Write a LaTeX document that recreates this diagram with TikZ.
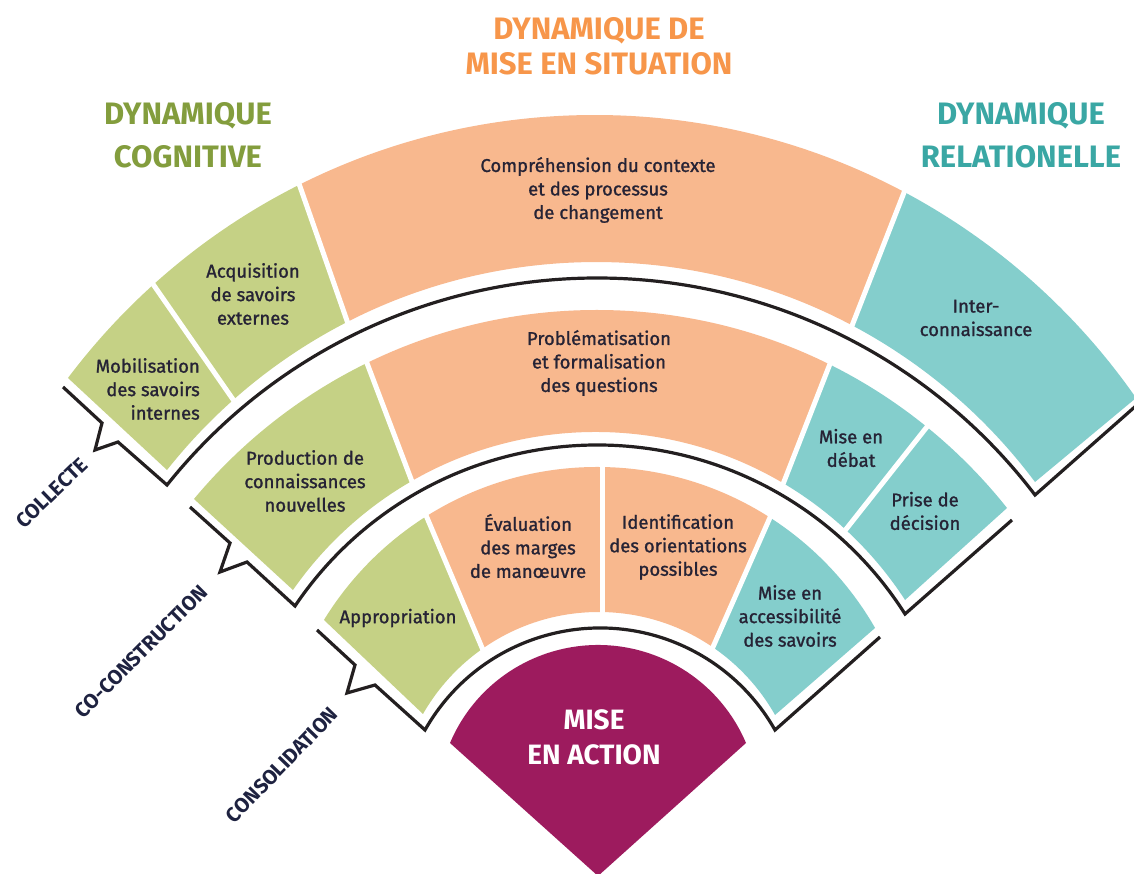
\documentclass[tikz,border=0pt]{standalone}
\usepackage{fontspec}
\setmainfont{Fira Sans}
\usetikzlibrary{calc}
\definecolor{cgreen}{HTML}{C5D185}
\definecolor{corange}{HTML}{F8B88E}
\definecolor{cteal}{HTML}{84CECC}
\definecolor{cmag}{HTML}{9D1B5E}
\definecolor{tgreen}{HTML}{839D3D}
\definecolor{torange}{HTML}{F7964A}
\definecolor{tteal}{HTML}{3AA7A4}
\definecolor{ctext}{HTML}{262335}
\definecolor{cnavy}{HTML}{1E2240}
\definecolor{cblk}{HTML}{231F20}
% circle through three points (pixel coordinates)
\newcommand{\defcirc}[7]{%
  \pgfmathsetmacro{\tpAx}{#2/100}\pgfmathsetmacro{\tpAy}{#3/100}%
  \pgfmathsetmacro{\tpBx}{#4/100}\pgfmathsetmacro{\tpBy}{#5/100}%
  \pgfmathsetmacro{\tpCx}{#6/100}\pgfmathsetmacro{\tpCy}{#7/100}%
  \pgfmathsetmacro{\tpD}{2*(\tpAx*(\tpBy-\tpCy)+\tpBx*(\tpCy-\tpAy)+\tpCx*(\tpAy-\tpBy))}%
  \pgfmathsetmacro{\tpA}{\tpAx*\tpAx+\tpAy*\tpAy}%
  \pgfmathsetmacro{\tpB}{\tpBx*\tpBx+\tpBy*\tpBy}%
  \pgfmathsetmacro{\tpC}{\tpCx*\tpCx+\tpCy*\tpCy}%
  \pgfmathsetmacro{\tpUx}{(\tpA*(\tpBy-\tpCy)+\tpB*(\tpCy-\tpAy)+\tpC*(\tpAy-\tpBy))/\tpD}%
  \pgfmathsetmacro{\tpUy}{(\tpA*(\tpCx-\tpBx)+\tpB*(\tpAx-\tpCx)+\tpC*(\tpBx-\tpAx))/\tpD}%
  \pgfmathsetmacro{\tpR}{100*veclen(\tpAx-\tpUx,\tpAy-\tpUy)}%
  \pgfmathsetmacro{\tpUx}{100*\tpUx}\pgfmathsetmacro{\tpUy}{100*\tpUy}%
  \expandafter\xdef\csname cx#1\endcsname{\tpUx}%
  \expandafter\xdef\csname cy#1\endcsname{\tpUy}%
  \expandafter\xdef\csname cr#1\endcsname{\tpR}%
}
\newcommand{\ptang}[4]{%
  \edef\tpcx{\csname cx#1\endcsname}\edef\tpcy{\csname cy#1\endcsname}%
  \pgfmathsetmacro{#4}{atan2((#3)-(\tpcy),(#2)-(\tpcx))}}
% ring sector between two circles, clipped by two divider lines
\newcommand{\rsector}[7]{%
  \edef\tpox{\csname cx#2\endcsname}\edef\tpoy{\csname cy#2\endcsname}\edef\tpor{\csname cr#2\endcsname}%
  \edef\tpix{\csname cx#3\endcsname}\edef\tpiy{\csname cy#3\endcsname}\edef\tpir{\csname cr#3\endcsname}%
  \begin{scope}
    \clip ($(#5)!-0.1!(#4)$) -- ($(#5)!3!(#4)$) -- ($(#7)!3!(#6)$) -- ($(#7)!-0.1!(#6)$) -- cycle;
    \fill[#1, even odd rule] (\tpox,\tpoy) circle[radius=\tpor] (\tpix,\tpiy) circle[radius=\tpir];
  \end{scope}}
\newcommand{\wdiv}[2]{\draw[divline] ($(#2)!-0.07!(#1)$) -- ($(#2)!1.07!(#1)$);}
\newcommand{\blackline}[9]{% circ, s, n1, n2, n3, Lcx, Lcy, Rcx, Rcy ; end point = coordinate <circ>e
  \ptang{#1}{#6}{#7}{\tpaL}\ptang{#1}{#8}{#9}{\tpaR}\edef\tpr{\csname cr#1\endcsname}%
  \draw[outl] (#2) -- (#3) -- (#4) -- (#5) -- (#6,#7) arc[start angle=\tpaL, end angle=\tpaR, radius=\tpr] -- (#1e);}
\tikzset{
  outl/.style={draw=cblk, line width=3.2, line join=miter},
  divline/.style={white, line width=5},
  stxt/.style={text=ctext, align=center, inner sep=0, font=\fontsize{18.5}{23.5}\selectfont\addfontfeature{FakeBold=1.2}},
  ttl/.style={align=center, inner sep=0, font=\fontsize{31}{43}\selectfont\bfseries},
  clab/.style={text=cnavy, inner sep=0, font=\fontsize{20.5}{22}\selectfont\bfseries},
}
\begin{document}
\begin{tikzpicture}[x=1pt,y=-1pt]
\useasboundingbox (0,0) rectangle (1134,874);
\fill[white] (0,0) rectangle (1134,874);
% ---------- divider points ----------
\coordinate (L1o) at (68,378);   \coordinate (L1i) at (167,470);
\coordinate (D1ao) at (155,287); \coordinate (D1ai) at (232,398);
\coordinate (D1bo) at (297,178); \coordinate (D1bi) at (345,315);
\coordinate (D1co) at (905,190); \coordinate (D1ci) at (855,318);
\coordinate (R1o) at (1136,398); \coordinate (R1i) at (1035,482);
\coordinate (L2o) at (194,499);  \coordinate (L2i) at (293,590);
\coordinate (D2ao) at (362,350); \coordinate (D2ai) at (411,479);
\coordinate (D2bo) at (835,351); \coordinate (D2bi) at (785,479);
\coordinate (D2co) at (930,423); \coordinate (D2ci) at (847,528);
\coordinate (R2o) at (1007,508); \coordinate (R2i) at (905,600);
\coordinate (L3o) at (324,620);  \coordinate (L3i) at (423,714);
\coordinate (D3ao) at (428,520); \coordinate (D3ai) at (480,643);
\coordinate (D3bo) at (602,466); \coordinate (D3bi) at (602,612);
\coordinate (D3co) at (768,522); \coordinate (D3ci) at (713,647);
\coordinate (R3o) at (875,628);  \coordinate (R3i) at (775,715);
% ---------- arcs ----------
\defcirc{A1o}{68}{378}{597}{115}{1136}{398}
\defcirc{A1i}{167}{470}{597}{262}{1035}{482}
\defcirc{A2o}{194}{499}{598}{310}{1007}{508}
\defcirc{A2i}{293}{590}{598}{432}{905}{600}
\defcirc{A3o}{324}{620}{598}{467}{875}{628}
\defcirc{A3i}{423}{714}{598}{612}{775}{715}
\defcirc{B1}{167}{485}{597}{278}{1035}{495}
\defcirc{B2}{295}{606}{598}{445}{905}{614}
\defcirc{B3}{425}{730}{598}{628}{775}{730}
\defcirc{Mg}{450}{743}{598}{645}{746}{743}
% ---------- ring 1 ----------
\rsector{cgreen}{A1o}{A1i}{L1o}{L1i}{D1ao}{D1ai}
\rsector{cgreen}{A1o}{A1i}{D1ao}{D1ai}{D1bo}{D1bi}
\rsector{corange}{A1o}{A1i}{D1bo}{D1bi}{D1co}{D1ci}
\rsector{cteal}{A1o}{A1i}{D1co}{D1ci}{R1o}{R1i}
\wdiv{D1ao}{D1ai}\wdiv{D1bo}{D1bi}\wdiv{D1co}{D1ci}
% ---------- ring 2 ----------
\rsector{cgreen}{A2o}{A2i}{L2o}{L2i}{D2ao}{D2ai}
\rsector{corange}{A2o}{A2i}{D2ao}{D2ai}{D2bo}{D2bi}
\rsector{cteal}{A2o}{A2i}{D2bo}{D2bi}{D2co}{D2ci}
\rsector{cteal}{A2o}{A2i}{D2co}{D2ci}{R2o}{R2i}
\wdiv{D2ao}{D2ai}\wdiv{D2bo}{D2bi}\wdiv{D2co}{D2ci}
% ---------- ring 3 ----------
\rsector{cgreen}{A3o}{A3i}{L3o}{L3i}{D3ao}{D3ai}
\rsector{corange}{A3o}{A3i}{D3ao}{D3ai}{D3bo}{D3bi}
\rsector{corange}{A3o}{A3i}{D3bo}{D3bi}{D3co}{D3ci}
\rsector{cteal}{A3o}{A3i}{D3co}{D3ci}{R3o}{R3i}
\wdiv{D3ao}{D3ai}\wdiv{D3bo}{D3bi}\wdiv{D3co}{D3ci}
% ---------- centre ----------
\ptang{Mg}{450}{743}{\tpaL}\ptang{Mg}{746}{743}{\tpaR}\edef\tpr{\crMg}
\coordinate (apex) at (598,876);
\fill[cmag] (apex) -- (450,743) arc[start angle=\tpaL, end angle=\tpaR, radius=\tpr] -- cycle;
% ---------- black outlines with callouts ----------
\coordinate (B1s) at (63,387);  \coordinate (B1n1) at (102,423); \coordinate (B1n2) at (95,450);  \coordinate (B1n3) at (118,442); \coordinate (B1e) at (1146,397);
\coordinate (B2s) at (190,507); \coordinate (B2n1) at (230,543); \coordinate (B2n2) at (220,572); \coordinate (B2n3) at (247,562); \coordinate (B2e) at (1012,520);
\coordinate (B3s) at (317,630); \coordinate (B3n1) at (355,665); \coordinate (B3n2) at (347,693); \coordinate (B3n3) at (375,685); \coordinate (B3e) at (880,637);
\blackline{B1}{B1s}{B1n1}{B1n2}{B1n3}{167}{485}{1035}{495}
\blackline{B2}{B2s}{B2n1}{B2n2}{B2n3}{295}{606}{905}{614}
\blackline{B3}{B3s}{B3n1}{B3n2}{B3n3}{425}{730}{775}{730}
% ---------- titles ----------
\node[ttl, text=torange, font=\fontsize{31}{35}\selectfont\bfseries] (tsit) at (599,46) {DYNAMIQUE DE\\MISE EN SITUATION};
\node[ttl, text=tgreen] (tcog) at (188,135) {DYNAMIQUE\\COGNITIVE};
\node[ttl, text=tteal] (trel) at (1021,135) {DYNAMIQUE\\RELATIONELLE};
% ---------- sector texts ----------
\node[stxt] (comp) at (598,190) {Compréhension du contexte\\et des processus\\de changement};
\node[stxt] (acq) at (253,294) {Acquisition\\de savoirs\\externes};
\node[stxt, align=right, anchor=east] (mob) at (200,389) {Mobilisation\\des savoirs\\internes};
\node[stxt] (inter) at (976,318) {Inter-\\connaissance};
\node[stxt] (prod) at (305,481) {Production de\\connaissances\\nouvelles};
\node[stxt] (prob) at (599,363) {Problématisation\\et formalisation\\des questions};
\node[stxt] (debat) at (851,448) {Mise en\\débat};
\node[stxt] (prise) at (925,511) {Prise de\\décision};
\node[stxt] (appr) at (398,618) {Appropriation};
\node[stxt] (eval) at (528,546) {Évaluation\\des marges\\de manœuvre};
\node[stxt] (ident) at (678,547) {Identification\\des orientations\\possibles};
\node[stxt] (access) at (790,616) {Mise en\\accessibilité\\des savoirs};
\node[ttl, text=white, font=\fontsize{28}{35}\selectfont\bfseries] (action) at (594,737) {MISE\\EN ACTION};
% ---------- phase labels ----------
\node[clab, rotate=44] (lcol) at (52,493) {COLLECTE};
\node[clab, rotate=45] (lcoc) at (141,652) {CO-CONSTRUCTION};
\node[clab, rotate=46] (lcons) at (282,765) {CONSOLIDATION};
\end{tikzpicture}
\end{document}
